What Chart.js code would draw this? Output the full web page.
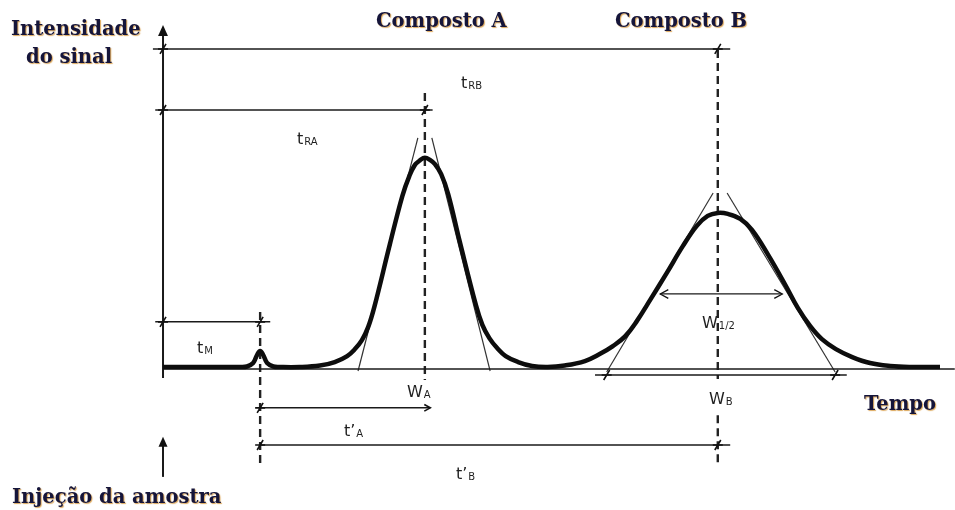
<!DOCTYPE html>
<html>
<head>
<meta charset="utf-8">
<script src="https://cdn.jsdelivr.net/npm/chart.js@4/dist/chart.umd.min.js"></script>
<style>
  html, body { margin: 0; padding: 0; background: #fff; }
  canvas { display: block; }
</style>
</head>
<body>
<canvas id="cromatograma" width="955" height="510"></canvas>
<script>
const tempo = [
  0, 0.99, 1.08, 1.16, 1.21, 1.25, 1.29, 1.34, 1.42, 1.51,
  1.76, 2.02, 2.21, 2.37, 2.47, 2.56, 2.64, 2.72, 2.92, 3.08, 3.17, 3.24, 3.31, 3.37,
  3.44, 3.50, 3.58, 3.67, 3.82, 4.03, 4.11, 4.20, 4.30, 4.41, 4.57, 4.75, 4.95,
  5.17, 5.43, 5.62, 5.79, 5.95, 6.10, 6.27, 6.49, 6.69, 6.87, 7.01, 7.14,
  7.27, 7.43, 7.58, 7.79, 8.01, 8.17, 8.33, 8.48, 8.66, 8.87, 9.10, 9.36, 9.61, 10.0];
const sinal = [
  0, 0, 0.15, 1.2, 3.6, 4.8, 3.6, 1.2, 0.15, 0,
  0, 0.45, 1.5, 3.3, 5.4, 8.1, 12.0, 18.1, 37.0, 51.5, 57.5, 60.8, 62.3, 63.0,
  62.3, 61.1, 58.1, 52.1, 37.7, 18.4, 12.7, 8.7, 5.7, 3.3, 1.5, 0.3, 0,
  0.45, 1.8, 3.9, 6.3, 9.3, 13.9, 20.2, 28.6, 36.4, 42.5, 45.5, 46.4,
  46.1, 44.6, 41.3, 33.7, 24.7, 17.8, 12.3, 8.4, 5.4, 3.0, 1.2, 0.3, 0, 0];

// tempos de retencao: tM (ar), tRA, tRB
const tM = 1.25, tRA = 3.37, tRB = 7.14;
// tangentes aos pontos de inflexao [x1, y1, x2, y2]
const tangentes = [
  [2.51, -1.2, 3.28, 69.0],
  [4.21, -1.2, 3.46, 69.0],
  [5.71, -1.5, 7.08, 52.4],
  [8.65, -1.5, 7.26, 52.4]
];
// larguras: base de B e meia altura de B
const larguraB = [5.71, 8.65];
const meiaAlturaB = [6.40, 7.97];

// alturas das cotas (layout)
const yTRB = 95.8, yTRA = 77.4, yTM = 13.6, yLA = -12.3, yLB = -23.5, yWB = -2.4, yW12 = 22.0;

const seg = (x1, y1, x2, y2, opts) => Object.assign({
  data: [{x: x1, y: y1}, {x: x2, y: y2}],
  pointRadius: 0, borderColor: '#1a1a1a', borderWidth: 1.5, fill: false, tension: 0
}, opts || {});

const tracejado = {borderDash: [8, 5], borderWidth: 2.4, borderColor: '#222'};

const datasets = [
  {
    data: tempo.map((t, i) => ({x: t, y: sinal[i]})),
    pointRadius: 0, borderColor: '#0d0d0d', borderWidth: 4.5,
    tension: 0.4, fill: false
  },
  seg(0, -0.6, 10.19, -0.6, {borderWidth: 1.3}),
  seg(0, -3.3, 0, 101, {borderWidth: 2}),
  ...tangentes.map(t => seg(t[0], t[1], t[2], t[3], {borderWidth: 1.2, borderColor: '#333'})),
  seg(-0.13, yTRB, tRB + 0.16, yTRB),
  seg(-0.1, yTRA, tRA + 0.1, yTRA),
  seg(-0.1, yTM, tM + 0.13, yTM),
  seg(tM, yLA, 3.44, yLA),
  seg(tM, yLB, tRB + 0.16, yLB),
  seg(larguraB[0] - 0.15, yWB, larguraB[1] + 0.15, yWB),
  seg(meiaAlturaB[0], yW12, meiaAlturaB[1], yW12, {borderWidth: 1.3}),
  seg(tM, 16.6, tM, -28.9, tracejado),
  seg(tRA, 82.5, tRA, -3.9, tracejado),
  seg(tRB, 95.5, tRB, -3.6, tracejado),
  seg(tRB, -14.5, tRB, -28.9, tracejado),
  seg(0, -33.1, 0, -23, {borderWidth: 2})
];

function ponta(ctx, x, y, dir, tam, cheia) {
  ctx.beginPath();
  if (dir === 'up') {
    ctx.moveTo(x - tam * 0.45, y + tam); ctx.lineTo(x, y); ctx.lineTo(x + tam * 0.45, y + tam);
  } else if (dir === 'left') {
    ctx.moveTo(x + tam, y - tam * 0.55); ctx.lineTo(x, y); ctx.lineTo(x + tam, y + tam * 0.55);
  } else {
    ctx.moveTo(x - tam, y - tam * 0.55); ctx.lineTo(x, y); ctx.lineTo(x - tam, y + tam * 0.55);
  }
  if (cheia) { ctx.closePath(); ctx.fill(); } else { ctx.stroke(); }
}

function marca(ctx, x, y) {
  ctx.beginPath();
  ctx.moveTo(x - 3, y + 5); ctx.lineTo(x + 3, y - 5);
  ctx.moveTo(x - 5, y); ctx.lineTo(x + 5, y);
  ctx.stroke();
}

function rotulo(ctx, base, sub, x, y) {
  ctx.font = '16px "DejaVu Sans", sans-serif';
  ctx.fillText(base, x, y);
  const w = ctx.measureText(base).width;
  ctx.font = '10px "DejaVu Sans", sans-serif';
  ctx.fillText(sub, x + w + 1, y + 1);
}

function titulo(ctx, txt, x, y) {
  ctx.save();
  ctx.font = 'bold 19.5px "DejaVu Serif", serif';
  ctx.textBaseline = 'middle';
  ctx.shadowColor = 'rgba(205,130,20,0.7)';
  ctx.shadowOffsetX = 1; ctx.shadowOffsetY = 1; ctx.shadowBlur = 1;
  ctx.fillStyle = '#15153a';
  ctx.fillText(txt, x, y);
  ctx.restore();
}

const anotacoes = {
  id: 'anotacoes',
  afterDatasetsDraw(chart) {
    const {ctx, scales: {x, y}} = chart;
    const X = v => x.getPixelForValue(v), Y = v => y.getPixelForValue(v);
    ctx.save();
    ctx.fillStyle = '#111';
    ctx.strokeStyle = '#111';
    ctx.lineWidth = 1.6;
    ponta(ctx, X(0), Y(103), 'up', 11, true);
    ponta(ctx, X(0), Y(-21), 'up', 10, true);
    marca(ctx, X(0), Y(yTRB));
    marca(ctx, X(tRB), Y(yTRB));
    marca(ctx, X(0), Y(yTRA));
    marca(ctx, X(tRA), Y(yTRA));
    marca(ctx, X(0), Y(yTM));
    marca(ctx, X(tM), Y(yTM));
    marca(ctx, X(tM), Y(yLA));
    ponta(ctx, X(3.44), Y(yLA), 'right', 6, false);
    marca(ctx, X(tM), Y(yLB));
    marca(ctx, X(tRB), Y(yLB));
    marca(ctx, X(larguraB[0]), Y(yWB));
    marca(ctx, X(larguraB[1]), Y(yWB));
    ctx.lineWidth = 1.3;
    ponta(ctx, X(meiaAlturaB[0]), Y(yW12), 'left', 8, false);
    ponta(ctx, X(meiaAlturaB[1]), Y(yW12), 'right', 8, false);

    ctx.fillStyle = '#1f1f1f';
    ctx.textBaseline = 'alphabetic';
    rotulo(ctx, 't', 'RB', 461, 88);
    rotulo(ctx, 't', 'RA', 297, 144);
    rotulo(ctx, 't', 'M', 197, 353);
    rotulo(ctx, 'W', 'A', 407, 397);
    rotulo(ctx, 't\u2019', 'A', 344, 436);
    rotulo(ctx, 't\u2019', 'B', 456, 479);
    rotulo(ctx, 'W', '1/2', 702, 328);
    rotulo(ctx, 'W', 'B', 709, 404);

    titulo(ctx, 'Intensidade', 11, 30);
    titulo(ctx, 'do sinal', 26, 58);
    titulo(ctx, 'Composto A', 376, 22);
    titulo(ctx, 'Composto B', 615, 22);
    titulo(ctx, 'Tempo', 864, 405);
    titulo(ctx, 'Injeção da amostra', 12, 498);
    ctx.restore();
  }
};

new Chart(document.getElementById('cromatograma'), {
  type: 'line',
  data: { datasets },
  options: {
    responsive: false,
    animation: false,
    devicePixelRatio: 1,
    layout: { padding: 0 },
    plugins: { legend: { display: false }, tooltip: { enabled: false } },
    elements: { point: { radius: 0 } },
    scales: {
      x: { type: 'linear', min: -2.098, max: 10.193, display: false },
      y: { type: 'linear', min: -43.07, max: 110.54, display: false }
    }
  },
  plugins: [anotacoes]
});
</script>
</body>
</html>
